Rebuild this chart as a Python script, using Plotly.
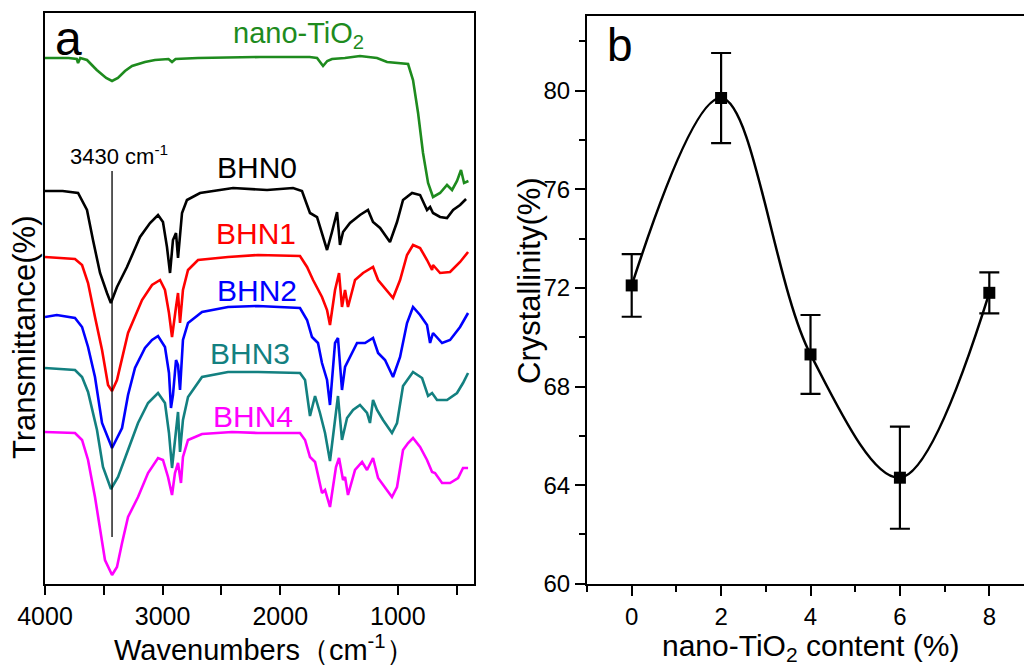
import plotly.graph_objects as go

W, H = 1024, 666
FONT = "Liberation Sans, Arial, sans-serif"

# ---------------- Panel a: FTIR spectra (wavenumber, transmittance a.u.) -------------
tio2_wn = [4000, 3800, 3730, 3719, 3700, 3643, 3560, 3480, 3430, 3380, 3320, 3260, 3150, 3065,
           2950, 2920, 2890, 2700, 2172, 1750, 1687, 1636, 1600, 1560, 1450, 1322, 1250, 1177,
           1092, 956, 913, 871, 828, 786, 743, 701, 641, 582, 539, 497, 463, 437, 400]
tio2_t = [526, 526, 525, 521, 526, 524, 514, 506, 503, 506, 513, 518, 522, 524,
          525, 522, 525, 526, 527, 527, 526, 518, 523, 525, 526, 528, 527, 526,
          522, 521, 520, 504, 471, 431, 401, 387, 391, 399, 394, 403, 414, 401, 403]

bhn0_wn = [4000, 3850, 3719, 3643, 3592, 3532, 3473, 3440, 3388, 3303, 3192, 3107, 3039, 2997,
           2963, 2937, 2912, 2886, 2869, 2835, 2793, 2682, 2401, 2112, 1891, 1815, 1772, 1747,
           1687, 1645, 1602, 1560, 1517, 1492, 1466, 1407, 1322, 1254, 1211, 1151, 1067, 1007,
           956, 879, 811, 752, 726, 701, 641, 582, 530, 471, 420]
bhn0_t = [393, 393, 391, 374, 344, 311, 291, 281, 297, 317, 347, 361, 369, 362,
          337, 311, 344, 351, 326, 371, 384, 391, 396, 394, 396, 393, 379, 371,
          367, 351, 334, 352, 372, 339, 352, 361, 369, 374, 362, 356, 342, 362,
          384, 391, 389, 374, 377, 371, 367, 366, 374, 379, 385]

bhn1_wn = [4000, 3745, 3685, 3634, 3575, 3515, 3464, 3430, 3388, 3294, 3175, 3090, 3022, 2980,
           2946, 2920, 2886, 2869, 2852, 2827, 2784, 2699, 2444, 2189, 1832, 1772, 1721, 1645,
           1602, 1577, 1534, 1500, 1475, 1449, 1424, 1364, 1296, 1211, 1168, 1109, 1041, 981,
           922, 871, 811, 752, 709, 701, 641, 556, 471, 403]
bhn1_t = [327, 325, 319, 301, 267, 234, 199, 193, 204, 251, 284, 299, 304, 294,
          271, 247, 277, 291, 261, 294, 314, 324, 327, 329, 328, 317, 304, 287,
          274, 259, 294, 311, 277, 294, 277, 304, 311, 317, 304, 296, 286, 304,
          329, 339, 336, 324, 314, 319, 311, 312, 322, 332]

bhn2_wn = [4000, 3900, 3745, 3685, 3634, 3575, 3515, 3430, 3345, 3294, 3235, 3150, 3090, 3039,
           2980, 2946, 2929, 2912, 2886, 2869, 2852, 2827, 2784, 2665, 2444, 2189, 1832, 1772,
           1730, 1679, 1645, 1602, 1577, 1534, 1509, 1475, 1449, 1407, 1347, 1279, 1211, 1168,
           1109, 1041, 981, 922, 871, 811, 752, 726, 701, 624, 556, 471, 403]
bhn2_t = [267, 269, 266, 257, 237, 207, 161, 136, 156, 189, 216, 236, 244, 248,
          237, 211, 176, 189, 224, 219, 194, 244, 261, 272, 277, 278, 276, 264,
          247, 241, 221, 204, 179, 241, 246, 194, 217, 227, 241, 241, 246, 231,
          224, 207, 227, 261, 277, 269, 259, 241, 251, 241, 244, 257, 271]

bhn3_wn = [4000, 3745, 3685, 3634, 3558, 3507, 3439, 3379, 3294, 3209, 3124, 3039, 2980, 2946,
           2920, 2895, 2869, 2852, 2827, 2784, 2665, 2444, 2189, 1832, 1789, 1747, 1704, 1662,
           1619, 1577, 1534, 1509, 1475, 1432, 1381, 1322, 1262, 1237, 1211, 1177, 1126, 1050,
           1007, 956, 871, 794, 743, 709, 667, 582, 497, 446, 403]
bhn3_t = [216, 214, 207, 192, 154, 117, 95, 107, 134, 161, 181, 191, 181, 151,
          116, 144, 172, 132, 164, 187, 207, 212, 212, 211, 204, 168, 188, 171,
          151, 123, 168, 188, 144, 166, 174, 179, 171, 161, 184, 174, 164, 151,
          161, 198, 212, 206, 188, 191, 184, 184, 191, 201, 211]

bhn4_wn = [4000, 3745, 3685, 3634, 3575, 3532, 3490, 3430, 3388, 3345, 3294, 3209, 3124, 3039,
           2997, 2954, 2920, 2895, 2869, 2844, 2827, 2784, 2665, 2410, 2189, 1832, 1789, 1747,
           1704, 1645, 1619, 1577, 1526, 1500, 1466, 1449, 1424, 1364, 1304, 1262, 1211, 1168,
           1109, 1050, 1007, 956, 913, 871, 811, 752, 709, 684, 624, 556, 488, 446, 403]
bhn4_t = [152, 151, 144, 124, 87, 54, 24, 9, 17, 41, 67, 87, 111, 126,
          124, 107, 89, 111, 121, 101, 127, 144, 150, 152, 151, 151, 144, 127,
          122, 91, 94, 77, 117, 126, 104, 107, 89, 114, 122, 114, 126, 106,
          97, 87, 97, 134, 141, 146, 137, 124, 112, 111, 101, 101, 106, 116, 116]

spectra = [
    ("nano-TiO2", tio2_wn, tio2_t, "#1E8B1E"),
    ("BHN0", bhn0_wn, bhn0_t, "#000000"),
    ("BHN1", bhn1_wn, bhn1_t, "#FF0000"),
    ("BHN2", bhn2_wn, bhn2_t, "#0000FF"),
    ("BHN3", bhn3_wn, bhn3_t, "#138080"),
    ("BHN4", bhn4_wn, bhn4_t, "#FF00FF"),
]

peak_wn = 3430
peak_line_t = [47, 413]

wn_major_ticks = [4000, 3000, 2000, 1000]
wn_minor_ticks = [3500, 2500, 1500, 500]

# ---------------- Panel b: crystallinity -------------
content = [0, 2, 4, 6, 8]
crystallinity = [72.1, 79.7, 69.3, 64.3, 71.8]
cryst_err = [1.27, 1.83, 1.6, 2.07, 0.83]
content_major_ticks = [0, 2, 4, 6, 8]
content_minor_ticks = [-1, 1, 3, 5, 7]
cryst_major_ticks = [60, 64, 68, 72, 76, 80]
cryst_minor_ticks = [62, 66, 70, 74, 78, 82]

fig = go.Figure()

for name, wn, t, col in spectra:
    fig.add_trace(go.Scatter(x=wn, y=t, mode="lines", name=name,
                             line=dict(color=col, width=2.6),
                             xaxis="x", yaxis="y", showlegend=False))

fig.add_trace(go.Scatter(x=[peak_wn, peak_wn], y=peak_line_t, mode="lines",
                         line=dict(color="black", width=1.3),
                         xaxis="x", yaxis="y", showlegend=False))

fig.add_trace(go.Scatter(x=content, y=crystallinity, mode="lines",
                         line=dict(color="black", width=2.5, shape="spline", smoothing=1.0),
                         xaxis="x2", yaxis="y2", showlegend=False))
fig.add_trace(go.Scatter(x=content, y=crystallinity, mode="markers",
                         marker=dict(symbol="square", size=12, color="black"),
                         error_y=dict(type="data", array=cryst_err, visible=True,
                                      color="black", thickness=2.2, width=10),
                         xaxis="x2", yaxis="y2", showlegend=False))

def px(x):
    return x / W

def py(y):
    return 1 - y / H

axis_common = dict(showgrid=False, zeroline=False, linecolor="black", linewidth=2,
                   ticks="outside", tickcolor="black", tickwidth=2, automargin=False,
                   tickfont=dict(family=FONT, size=25, color="black"))

fig.update_layout(
    width=W, height=H,
    margin=dict(l=0, r=0, t=0, b=0),
    paper_bgcolor="white", plot_bgcolor="white",
    xaxis=dict(axis_common, domain=[px(45), px(474.3)], range=[4000, 350],
               tickvals=wn_major_ticks, ticklen=9,
               minor=dict(tickvals=wn_minor_ticks, ticklen=9, tickwidth=2,
                          tickcolor="black", ticks="outside"),
               showline=True, mirror=True, anchor="y"),
    yaxis=dict(axis_common, domain=[py(583.7), py(13.3)], range=[0.3, 570.7],
               showticklabels=False, ticks="", showline=True, mirror=True, anchor="x"),
    xaxis2=dict(axis_common, domain=[px(587), 1.0], range=[-1, 8.776],
                tickvals=content_major_ticks, ticklen=10, showline=True, mirror=True,
                tickfont=dict(family=FONT, size=24, color="black"),
                minor=dict(tickvals=content_minor_ticks, ticklen=6, tickwidth=2,
                           tickcolor="black", ticks="outside"),
                anchor="y2"),
    yaxis2=dict(axis_common, domain=[py(583.7), py(16)], range=[60, 83.03],
                tickvals=cryst_major_ticks, ticklen=10, showline=True, mirror=False,
                tickfont=dict(family=FONT, size=24, color="black"),
                minor=dict(tickvals=cryst_minor_ticks, ticklen=6, tickwidth=2,
                           tickcolor="black", ticks="outside"),
                anchor="x2"),
)

def ann(text, x, y, size, color="black", angle=0, xanchor="center"):
    fig.add_annotation(text=text, x=px(x), y=py(y), xref="paper", yref="paper",
                       showarrow=False, xanchor=xanchor, yanchor="middle",
                       textangle=angle,
                       font=dict(family=FONT, size=size, color=color))

ann("a", 68, 38, 48)
ann("b", 605, 45, 46, xanchor="left")
ann("nano-TiO<sub>2</sub>", 298, 35, 29, "#1E8B1E")
ann("3430 cm<sup>-1</sup>", 119, 155, 22)
ann("BHN0", 257, 168, 30, "#000000")
ann("BHN1", 256, 233, 30, "#FF0000")
ann("BHN2", 257, 290, 30, "#0000FF")
ann("BHN3", 250, 353, 30, "#138080")
ann("BHN4", 253, 416, 30, "#FF00FF")
ann("Transmittance(%)", 24, 338, 31, angle=-90)
ann("Wavenumbers\uff08cm<sup>-1</sup>\uff09", 264, 648, 29)
ann("Crystallinity(%)", 529, 281, 31, angle=-90)
ann("nano-TiO<sub>2</sub> content (%)", 810, 647, 30)

fig.write_html("out.html", config={"displayModeBar": False})

# remove the default page margin so the 1024x666 figure fills the window exactly
with open("out.html", "r", encoding="utf-8") as f:
    html = f.read()
html = html.replace("<head>", "<head><style>html,body{margin:0;padding:0;overflow:hidden;}</style>", 1)
with open("out.html", "w", encoding="utf-8") as f:
    f.write(html)
